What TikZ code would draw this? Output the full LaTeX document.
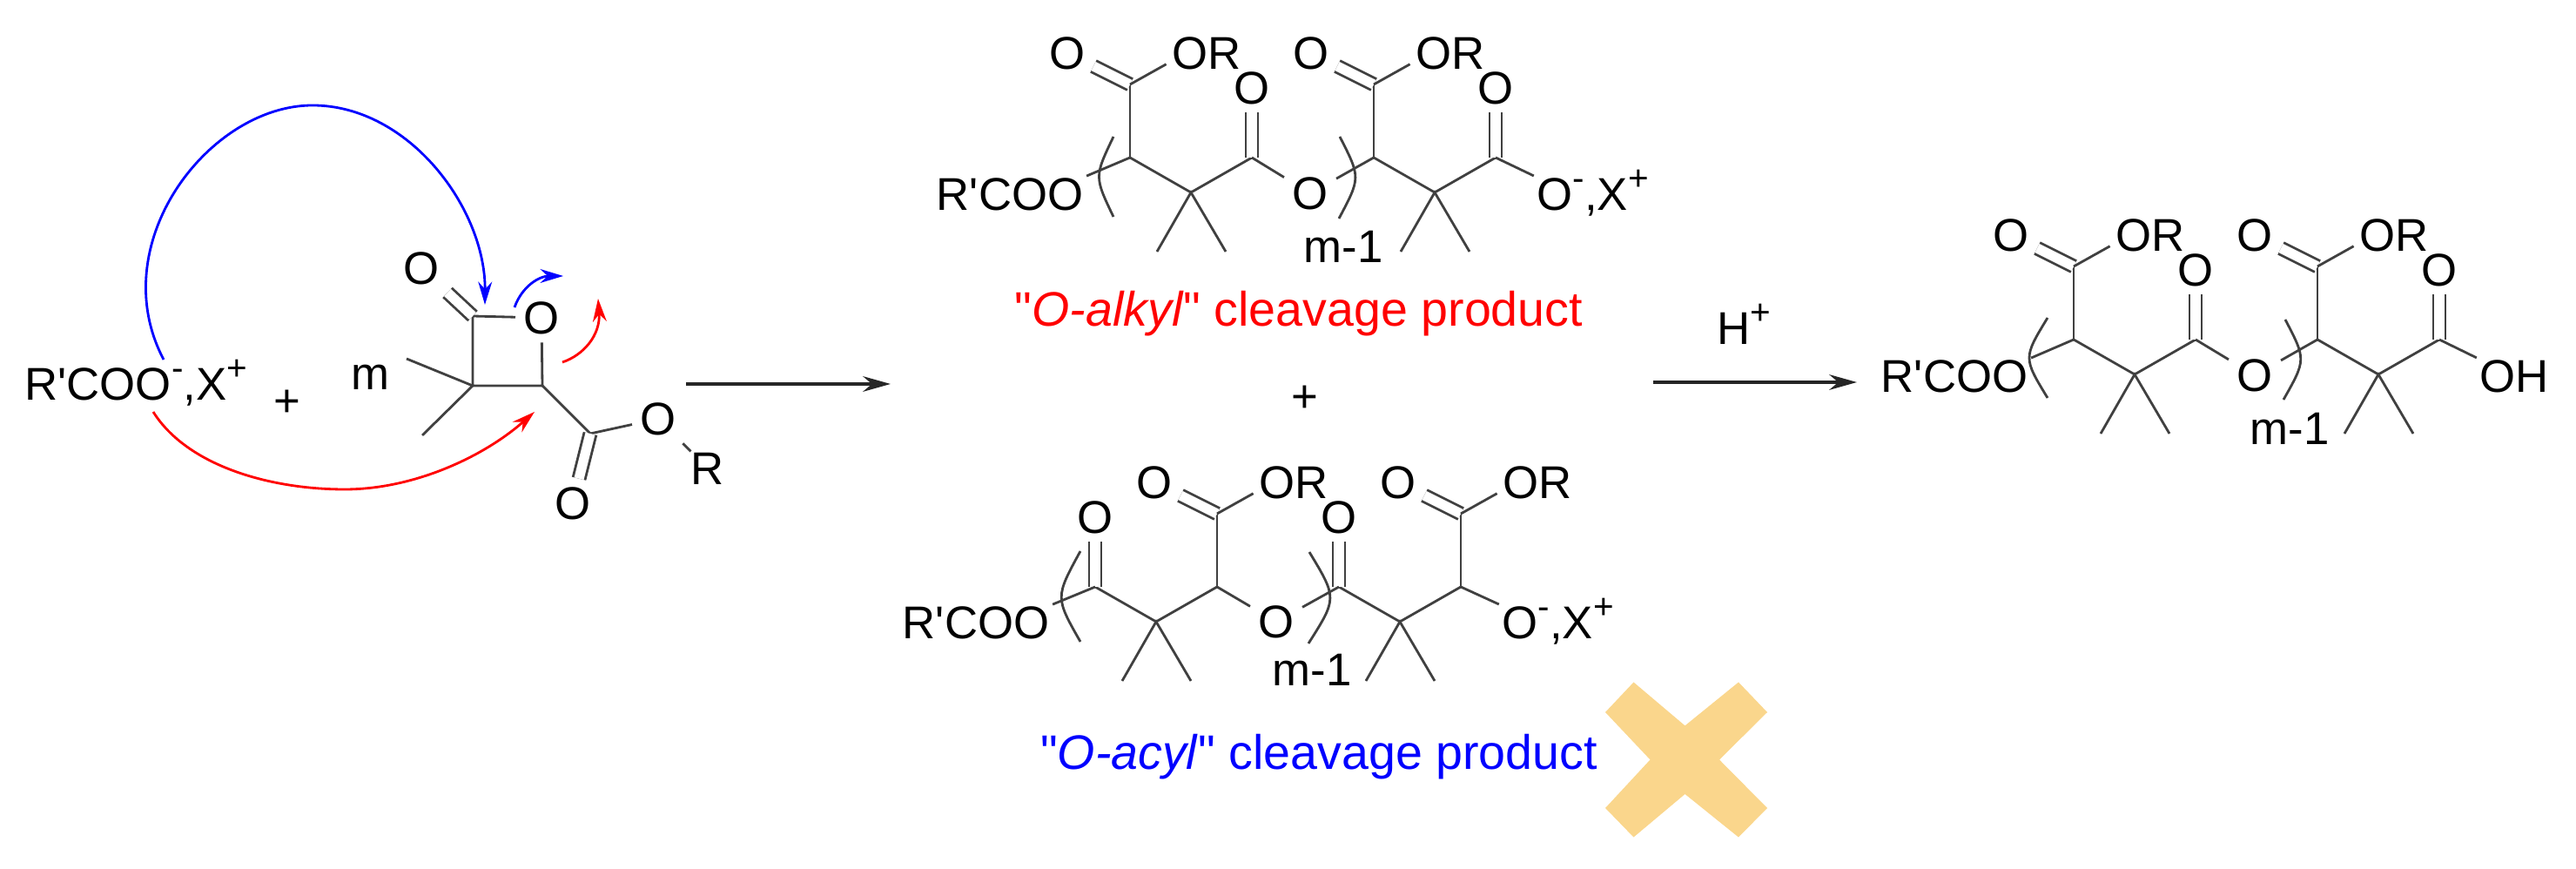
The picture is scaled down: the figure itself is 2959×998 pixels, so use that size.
\documentclass[tikz,border=0pt]{standalone}
\usepackage{fontspec}
\setmainfont{Liberation Sans}[Ligatures=TeXOff]
\usepackage{tikz}
\usetikzlibrary{calc, positioning, arrows.meta, scopes}
\definecolor{crossyellow}{HTML}{FAD68C}
\newcommand{\ionsup}[1]{\raisebox{6.6pt}{\fontsize{11.5}{12}\selectfont #1}}
\tikzset{atom/.style={inner sep=2.5pt, font=\fontsize{15}{18}\selectfont, text height=10.7pt, text depth=0pt}}
\tikzset{atom text/.style={atom, inner sep=0pt}}
\tikzset{cleavage label/.style={font=\fontsize{15.8}{18}\selectfont}}
\tikzset{bond line/.style={draw=black!75, line width=0.8pt}}
\tikzset{double bond/.style={bond line, double=white, double distance=3.2pt}}
\tikzset{main arrow/.style={draw=black!85, line width=1.2pt, -{Stealth[length=9pt, width=5pt]}}}
\tikzset{push arrow/.style={line width=0.8pt, -{Stealth[length=7.5pt, width=4.5pt]}}}
\newcommand{\dimethylunit}[3]{
\begin{scope}[shift={(#2,#3)}]
\coordinate (#1a) at (0,0);
\coordinate (#1q) at (70,40);
\coordinate (#1b) at (140,0);
\coordinate (#1m) at (31,108);
\coordinate (#1n) at (110,108);
\draw[bond line] (#1a) -- (#1q) -- (#1b);
\draw[bond line] (#1m) -- (#1q) -- (#1n);
\end{scope}}
\newcommand{\oxogroup}[2]{
\node[atom] (#1) at ($(#2)+(0,-80)$) {O};
\draw[double bond] (#2) -- (#1);}
\newcommand{\estergroup}[2]{
\coordinate (#1c) at ($(#2)+(0,-84)$);
\node[atom] (#1o) at ($(#1c)+(-72,-36)$) {O};
\node[atom text] (#1r) at ($(#1c)+(88,-36)$) {OR};
\draw[bond line] (#2) -- (#1c);
\draw[double bond] (#1c) -- (#1o);
\draw[bond line, shorten >=2pt] (#1c) -- (#1r.193);}
\begin{document}
\begin{tikzpicture}[x=0.01cm, y=-0.01cm]
\useasboundingbox (0,0) rectangle (2959,998);

\node[atom text, anchor=west] (salt) at (28,441) {R'COO\ionsup{-},X\ionsup{+}};
\node[atom] (plusa) at (330,460) {+};
\node[atom text] (repeat) at (425,429) {m};
\coordinate (ringc) at (543,363);
\coordinate (ringq) at (543,443);
\coordinate (ringh) at (623,443);
\coordinate (ringme) at (467,412);
\coordinate (ringmf) at (485,500);
\coordinate (esterc) at (678,498);
\node[atom] (ringo) at (622,365) {O};
\node[atom] (ringket) at (484,308) {O};
\node[atom] (estero) at (756,481) {O};
\node[atom text] (esterr) at (813,538) {R};
\node[atom] (esterket) at (658,578) {O};
\draw[bond line] (ringo) -- (ringc) -- (ringq) -- (ringh) -- (ringo);
\draw[bond line] (ringme) -- (ringq) -- (ringmf);
\draw[double bond] (ringc) -- (ringket);
\draw[bond line] (ringh) -- (esterc) -- (estero) -- (esterr);
\draw[double bond] (esterc) -- (esterket);

\coordinate (blueout) at (188,413);
\coordinate (bluein) at (557,350);
\coordinate (redout) at (176,473);
\coordinate (redin) at (614,473);
\coordinate (leavea) at (591,353);
\coordinate (leaveb) at (647,317);
\coordinate (leavec) at (646,416);
\coordinate (leaved) at (687,343);
\draw[push arrow, blue] (blueout) .. controls (118,280) and (240,121) .. (359,121) .. controls (470,121) and (558,240) .. (bluein);
\draw[push arrow, red] (redout) .. controls (215,535) and (310,562) .. (396,562) .. controls (475,562) and (555,525) .. (redin);
\draw[push arrow, blue] (leavea) .. controls (600,328) and (620,317) .. (leaveb);
\draw[push arrow, red] (leavec) .. controls (670,408) and (690,385) .. (leaved);

\coordinate (arrowa) at (788,441);
\coordinate (arrowb) at (1023,441);
\draw[main arrow] (arrowa) -- (arrowb);

\node[atom text] (topcoo) at (1160,223) {R'COO};
\dimethylunit{ta}{1298}{181}
\dimethylunit{tb}{1578}{181}
\estergroup{tae}{taa}
\estergroup{tbe}{tba}
\oxogroup{tao}{tab}
\oxogroup{tbo}{tbb}
\node[atom] (tbridge) at (1505,222) {O};
\node[atom text, anchor=west] (tend) at (1765,223) {O\ionsup{-},X\ionsup{+}};
\draw[bond line, shorten <=1pt] (topcoo.north east) -- (taa);
\draw[bond line] (tab) -- (tbridge) -- (tba);
\draw[bond line, shorten >=1pt] (tbb) -- (tend.north west);
\draw[bond line] (1279,157) .. controls (1257,203) .. (1279,249);
\draw[bond line] (1539,157) .. controls (1563,204) .. (1538,251);
\node[atom text] (tcount) at (1543,283) {m-1};
\node[cleavage label, text=red] (tlabel) at (1492,360) {"\textit{O-alkyl}" cleavage product};

\node[atom] (plusb) at (1499,455) {+};

\node[atom text] (lowcoo) at (1121,715) {R'COO};
\dimethylunit{la}{1258}{674}
\dimethylunit{lb}{1538}{674}
\oxogroup{lao}{laa}
\oxogroup{lbo}{lba}
\estergroup{lae}{lab}
\estergroup{lbe}{lbb}
\node[atom] (lbridge) at (1466,714) {O};
\node[atom text, anchor=west] (lend) at (1725,715) {O\ionsup{-},X\ionsup{+}};
\draw[bond line, shorten <=1pt] (lowcoo.north east) -- (laa);
\draw[bond line] (lab) -- (lbridge) -- (lba);
\draw[bond line, shorten >=1pt] (lbb) -- (lend.north west);
\draw[bond line] (1241,633) .. controls (1212,686) .. (1241,737);
\draw[bond line] (1504,634) .. controls (1536,687) .. (1503,739);
\node[atom text] (lcount) at (1507,769) {m-1};
\node[cleavage label, text=blue] (llabel) at (1515,869) {"\textit{O-acyl}" cleavage product};
\fill[crossyellow] (1876.5,783.5) -- (1935.5,833.4) -- (1997,783.5) -- (2030,818) -- (1975,872.5) -- (2030,928) -- (1997,961.5) -- (1935.5,912) -- (1876.5,961.5) -- (1844,928) -- (1895.5,872.5) -- (1844,818) -- cycle;

\coordinate (arrowc) at (1899,439);
\coordinate (arrowd) at (2133,439);
\draw[main arrow] (arrowc) -- (arrowd);
\node[atom text, anchor=west] (proton) at (1972,377) {H\ionsup{+}};

\node[atom text] (rightcoo) at (2245,432) {R'COO};
\dimethylunit{ra}{2382}{390}
\dimethylunit{rb}{2662}{390}
\estergroup{rae}{raa}
\estergroup{rbe}{rba}
\oxogroup{rao}{rab}
\oxogroup{rbo}{rbb}
\node[atom] (rbridge) at (2590,431) {O};
\node[atom text, anchor=west] (rend) at (2848,432) {OH};
\draw[bond line, shorten <=1pt] (rightcoo.north east) -- (raa);
\draw[bond line] (rab) -- (rbridge) -- (rba);
\draw[bond line, shorten >=1pt] (rbb) -- (rend.north west);
\draw[bond line] (2352,365) .. controls (2324,411) .. (2352,457);
\draw[bond line] (2625,367) .. controls (2649,413) .. (2623,459);
\node[atom text] (rcount) at (2630,492) {m-1};
\end{tikzpicture}
\end{document}
